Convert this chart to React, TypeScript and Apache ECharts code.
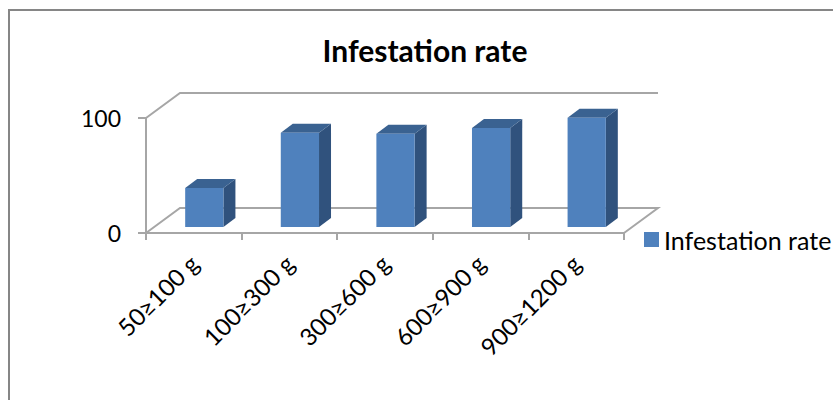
import React, { useEffect, useRef } from "react";
import * as echarts from "echarts";

const categories = ["50≥100 g", "100≥300 g", "300≥600 g", "600≥900 g", "900≥1200 g"];
const infestationRate = [34, 82, 81, 86, 95];
const wallLevels = [0, 100];
const seriesName = "Infestation rate";
const FONT = "Lato";
const DEPTH_X = 34;
const DEPTH_Y = -25;

export default function App() {
  const ref = useRef<HTMLDivElement>(null);
  useEffect(() => {
    const chart = echarts.init(ref.current!, null, { renderer: "svg" });
    chart.setOption({
      animation: false,
      backgroundColor: "#fff",
      title: {
        text: seriesName,
        left: 420,
        top: 30,
        textAlign: "center",
        textStyle: { fontFamily: FONT, fontSize: 30, fontWeight: "bold", color: "#000" },
      },
      legend: {
        data: [seriesName],
        left: 639,
        top: 222,
        itemWidth: 15,
        itemHeight: 15,
        itemGap: 6,
        icon: "rect",
        textStyle: { fontFamily: FONT, fontSize: 25, color: "#000", padding: [0, 0, 0, 0] },
      },
      grid: { left: 146, right: 209, top: 118, bottom: 167 },
      xAxis: {
        type: "category",
        data: categories,
        axisLine: { lineStyle: { color: "#a6a6a6", width: 2 } },
        axisTick: { show: true, length: 7, alignWithLabel: false, lineStyle: { color: "#a6a6a6", width: 2 } },
        axisLabel: { rotate: 45, interval: 0, margin: 26, fontFamily: FONT, fontSize: 24, color: "#000" },
        splitLine: { show: false },
      },
      yAxis: {
        type: "value",
        min: 0,
        max: 100,
        interval: 100,
        axisLine: { show: true, lineStyle: { color: "#a6a6a6", width: 2 } },
        axisTick: { show: true, length: 8, lineStyle: { color: "#a6a6a6", width: 2 } },
        axisLabel: { margin: 25, fontFamily: FONT, fontSize: 23, color: "#000" },
        splitLine: { show: false },
      },
      series: [
        {
          type: "custom",
          name: "walls",
          silent: true,
          z: 1,
          data: wallLevels.map((v) => [0, v]),
          encode: { x: 0, y: 1 },
          renderItem: (_p: any, api: any) => {
            const v = api.value(1);
            const [cx, y] = api.coord([0, v]);
            const band = api.size([1, 0])[0];
            const x0 = cx - band / 2;
            const size = band * categories.length;
            const pts: number[][] = [
              [x0, y],
              [x0 + DEPTH_X, y + DEPTH_Y],
              [x0 + size + DEPTH_X, y + DEPTH_Y],
            ];
            if (v === 0) pts.push([x0 + size, y]);
            return {
              type: "polyline",
              shape: { points: pts },
              style: { stroke: "#a6a6a6", lineWidth: 2, fill: "none" },
            };
          },
        },
        {
          type: "custom",
          name: seriesName,
          z: 3,
          itemStyle: { color: "#4f81bd" },
          data: infestationRate.map((v, i) => [i, v]),
          encode: { x: 0, y: 1 },
          renderItem: (_p: any, api: any) => {
            const top = api.coord([api.value(0), api.value(1)]);
            const base = api.coord([api.value(0), 0]);
            const w = api.size([1, 0])[0] * 0.4;
            const x = top[0] + 10.5 - w / 2;
            const yt = top[1] - 6;
            const yb = base[1] - 6;
            const dx = 12;
            const dy = -9;
            return {
              type: "group",
              children: [
                {
                  type: "polygon",
                  shape: { points: [[x + w, yt], [x + w + dx, yt + dy], [x + w + dx, yb + dy], [x + w, yb]] },
                  style: { fill: "#30527d" },
                },
                {
                  type: "polygon",
                  shape: { points: [[x, yt], [x + dx, yt + dy], [x + w + dx, yt + dy], [x + w, yt]] },
                  style: { fill: "#3a6291" },
                },
                { type: "rect", shape: { x, y: yt, width: w, height: yb - yt }, style: { fill: "#4f81bd" } },
              ],
            };
          },
        },
      ],
      graphic: [
        {
          type: "polyline",
          silent: true,
          shape: { points: [[9, 400], [9, 10], [833, 10]] },
          style: { stroke: "#868686", lineWidth: 2, fill: "none" },
        },
      ],
    });
    return () => chart.dispose();
  }, []);
  return <div ref={ref} style={{ position: "fixed", left: 0, top: 0, width: 833, height: 400 }} />;
}
